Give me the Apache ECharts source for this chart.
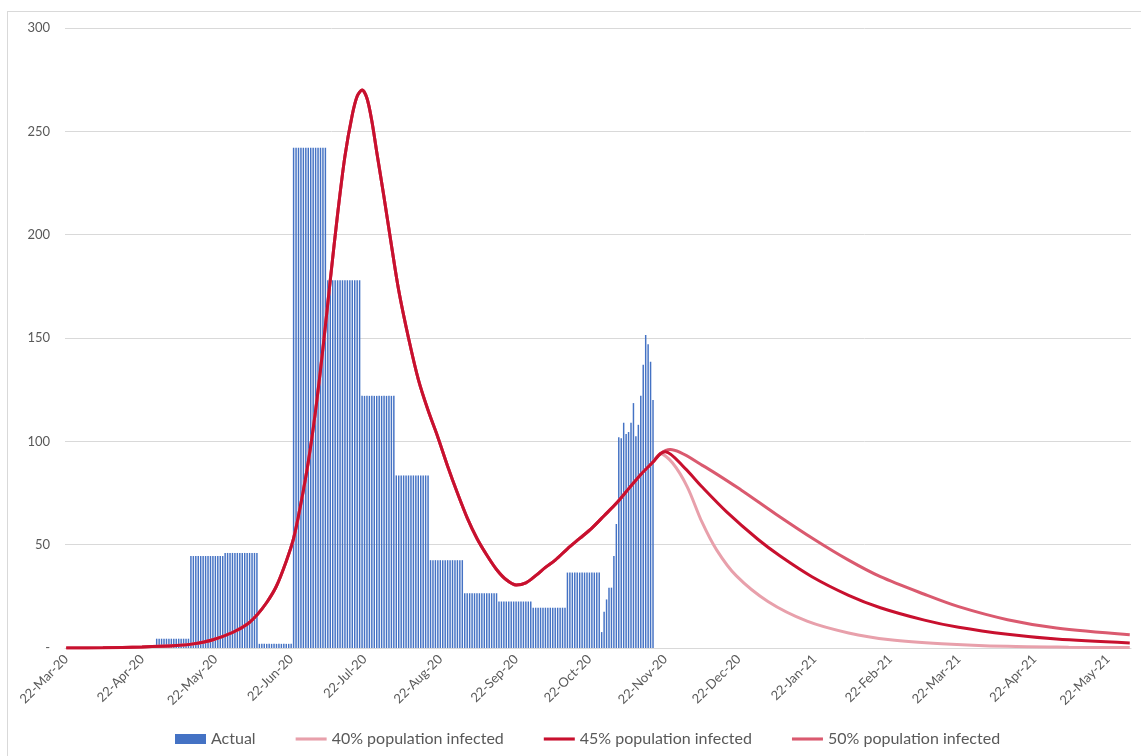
<!DOCTYPE html>
<html>
<head>
<meta charset="utf-8">
<script src="https://cdn.jsdelivr.net/npm/echarts@6/dist/echarts.min.js"></script>
<style>
  html, body { margin: 0; padding: 0; background: #fff; overflow: hidden; }
  #frame { position: absolute; left: 7px; top: 11px; width: 1300px; height: 900px; border: 1px solid #d9d9d9; }
  #main { position: absolute; left: 0; top: 0; width: 1141px; height: 756px; }
</style>
</head>
<body>
<div id="frame"></div>
<div id="main"></div>
<script>
// x axis: one category per day, 22-Mar-20 .. 31-May-21
var startDate = Date.UTC(2020, 2, 22);
var dayCount = 436;
var monthNames = ['Jan','Feb','Mar','Apr','May','Jun','Jul','Aug','Sep','Oct','Nov','Dec'];

// actual cases: fortnightly values first, then daily reports
var actualStartDay = 37;
var actualFortnightly = [4.5, 44.5, 46, 2, 242, 178, 122, 83.5, 42.5, 26.5, 22.5, 19.5, 36.5];
var actualDaily = [7.7, 17.6, 23.5, 29.2, 29.2, 44.5, 60, 102, 101.5, 109, 103.5, 104.5, 109, 118.5, 102.5, 108, 122, 137, 151.5, 147, 138.5, 120];

// model curves (day index, value) - same path until mid Nov
var sharedDays = [0, 15, 31, 45, 52, 60, 68, 74, 78, 82, 86, 90, 93, 96, 99, 102, 105, 108, 111, 114, 117, 119, 121, 123, 125, 127, 130, 133, 136, 140, 144, 148, 152, 156, 160, 164, 168, 172, 176, 180, 184, 188, 192, 196, 200, 205, 210, 215, 220, 225, 230, 235, 240];
var sharedVals = [0, 0.1, 0.5, 1.2, 2, 4, 7.5, 11.5, 16, 22, 30, 42, 53, 70, 90, 115, 145, 178, 210, 238, 258, 267, 270, 266, 255, 240, 218, 195, 173, 150, 130, 115, 102, 88, 75, 63, 53, 45, 38, 33, 30.5, 31.5, 35, 39, 42.5, 48, 53, 58, 64, 70, 77, 84, 90];

var tail40Days = [243, 248, 254, 260, 266, 274, 287, 303, 320, 337, 358, 385, 410, 435];
var tail40Vals = [94, 89.5, 78, 61, 47.5, 35, 22.5, 13, 7.3, 4, 2.1, 0.8, 0.4, 0.2];

var tail45Days = [243, 245, 253, 260, 270, 283, 292, 305, 320, 333, 351, 365, 385, 405, 435];
var tail45Vals = [94, 95, 87, 78, 66, 52.5, 44.5, 34.5, 25.5, 19.5, 13.5, 10, 6.6, 4.3, 2.4];

var tail50Days = [243, 247, 260, 276, 290, 306, 320, 333, 351, 365, 385, 405, 435];
var tail50Vals = [94, 96, 88.5, 76.5, 65, 52.5, 42.5, 34.5, 26, 20, 13.7, 9.7, 6.4];

var yTicks = { min: 0, max: 300, step: 50 };

var dates = [];
for (var i = 0; i < dayCount; i++) {
  var d = new Date(startDate + i * 86400000);
  dates.push(d.getUTCDate() + '-' + monthNames[d.getUTCMonth()] + '-' + String(d.getUTCFullYear()).slice(2));
}

// bars, one per day
var actual = [];
for (var i = 0; i < dayCount; i++) actual.push(null);
actualFortnightly.forEach(function (v, k) {
  for (var j = 0; j < 14; j++) actual[actualStartDay + k * 14 + j] = v;
});
var dailyStart = actualStartDay + actualFortnightly.length * 14;
actualDaily.forEach(function (v, k) { actual[dailyStart + k] = v; });

function pairs(days, vals) {
  return days.map(function (d, k) { return [d, vals[k]]; });
}
var line40 = pairs(sharedDays.concat(tail40Days), sharedVals.concat(tail40Vals));
var line45 = pairs(sharedDays.concat(tail45Days), sharedVals.concat(tail45Vals));
var line50 = pairs(sharedDays.concat(tail50Days), sharedVals.concat(tail50Vals));

// only the 22nd of each month gets a label / tick
function on22(idx, val) { return val.indexOf('22-') === 0; }

// thin bar used as legend icon for the model lines
var lineIcon = 'path://M0,0 L32,0 L32,3.2 L0,3.2 Z';

var font = 'Lato, "Open Sans", sans-serif';
var chart = echarts.init(document.getElementById('main'));
var option = {
  backgroundColor: 'transparent',
  animation: false,
  grid: { left: 65, right: 10, top: 28, bottom: 108 },
  legend: {
    bottom: 4,
    left: 170,
    itemWidth: 31,
    itemHeight: 10,
    itemGap: 40,
    textStyle: { fontFamily: font, fontSize: 16, color: '#595959' },
    data: [
      { name: 'Actual', icon: 'rect' },
      { name: '40% population infected', icon: lineIcon },
      { name: '45% population infected', icon: lineIcon },
      { name: '50% population infected', icon: lineIcon }
    ]
  },
  xAxis: {
    type: 'category',
    data: dates,
    boundaryGap: true,
    axisLine: { lineStyle: { color: '#d9d9d9', width: 1 } },
    axisTick: { interval: on22, alignWithLabel: true, length: 5, lineStyle: { color: '#d9d9d9' } },
    axisLabel: {
      interval: on22,
      rotate: 45,
      margin: 9,
      fontFamily: font,
      fontSize: 13,
      color: '#595959'
    },
    splitLine: { show: false }
  },
  yAxis: {
    type: 'value',
    min: yTicks.min,
    max: yTicks.max,
    interval: yTicks.step,
    axisLine: { show: false },
    axisTick: { show: false },
    axisLabel: {
      margin: 15,
      fontFamily: font,
      fontSize: 13,
      color: '#595959',
      formatter: function (v) { return v === 0 ? '-' : v; }
    },
    splitLine: { lineStyle: { color: '#d9d9d9', width: 1 } }
  },
  series: [
    {
      name: 'Actual',
      type: 'bar',
      data: actual,
      barCategoryGap: '40%',
      itemStyle: { color: '#4472c4' },
      z: 1
    },
    {
      name: '40% population infected',
      type: 'line',
      data: line40,
      smooth: 0.3,
      symbol: 'none',
      lineStyle: { color: '#e8a0ab', width: 3 },
      itemStyle: { color: '#e8a0ab' },
      z: 2
    },
    {
      name: '50% population infected',
      type: 'line',
      data: line50,
      smooth: 0.3,
      symbol: 'none',
      lineStyle: { color: '#da5a6f', width: 3 },
      itemStyle: { color: '#da5a6f' },
      z: 3
    },
    {
      name: '45% population infected',
      type: 'line',
      data: line45,
      smooth: 0.3,
      symbol: 'none',
      lineStyle: { color: '#c8102e', width: 3 },
      itemStyle: { color: '#c8102e' },
      z: 4
    }
  ]
};
chart.setOption(option);
</script>
</body>
</html>
